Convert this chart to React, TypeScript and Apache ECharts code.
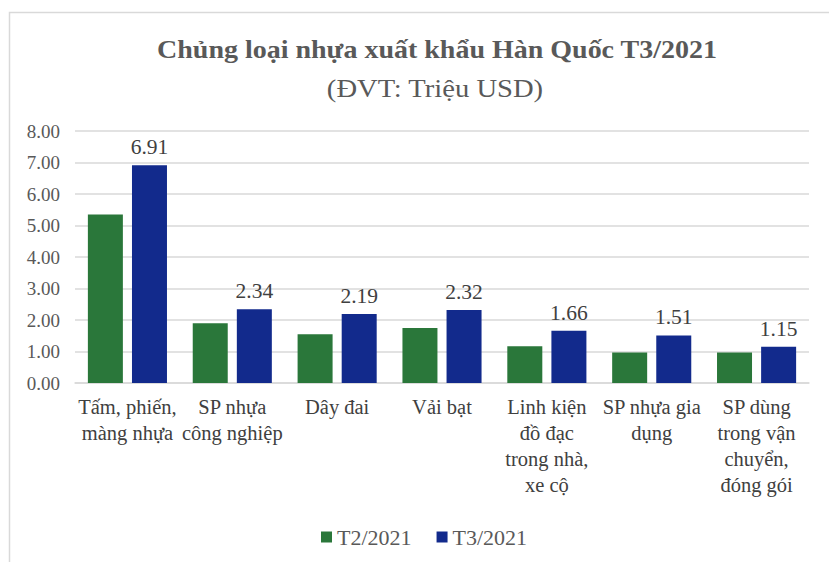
import React, { useEffect, useRef } from "react";
import * as echarts from "echarts";

const categories = [
  "Tấm, phiến,\nmàng nhựa",
  "SP nhựa\ncông nghiệp",
  "Dây đai",
  "Vải bạt",
  "Linh kiện\nđồ đạc\ntrong nhà,\nxe cộ",
  "SP nhựa gia\ndụng",
  "SP dùng\ntrong vận\nchuyển,\nđóng gói",
];
const t2Values = [5.35, 1.9, 1.55, 1.75, 1.17, 0.97, 0.97];
const t3Values = [6.91, 2.34, 2.19, 2.32, 1.66, 1.51, 1.15];
const seriesNames = ["T2/2021", "T3/2021"];
const titleText = "Chủng loại nhựa xuất khẩu Hàn Quốc T3/2021";
const subtitleText = "(ĐVT: Triệu USD)";

const FONT = "'Liberation Serif', 'Times New Roman', serif";

export default function App() {
  const ref = useRef<HTMLDivElement>(null);
  useEffect(() => {
    if (!ref.current) return;
    const chart = echarts.init(ref.current, null, { renderer: "svg" });
    chart.setOption({
      animation: false,
      backgroundColor: "#ffffff",
      textStyle: { fontFamily: FONT },
      graphic: [
        {
          type: "polyline",
          shape: { points: [[9.5, 600], [9.5, 12.5], [840, 12.5]] },
          style: { stroke: "#d9d9d9", lineWidth: 1.5, fill: "none" },
          silent: true,
        },
        {
          type: "text",
          x: 437,
          y: 50,
          scaleX: 1.12,
          style: {
            text: titleText,
            align: "center",
            verticalAlign: "middle",
            fontFamily: FONT,
            fontSize: 25,
            fontWeight: "bold",
            fill: "#595959",
          },
        },
        {
          type: "text",
          x: 435,
          y: 88,
          scaleX: 1.1,
          style: {
            text: subtitleText,
            align: "center",
            verticalAlign: "middle",
            fontFamily: FONT,
            fontSize: 26,
            fontWeight: "normal",
            fill: "#595959",
          },
        },
      ],
      legend: {
        left: 316,
        top: 521,
        itemWidth: 11,
        itemHeight: 11,
        itemGap: 25,
        icon: "rect",
        textStyle: { fontSize: 22, color: "#595959", fontFamily: FONT },
        data: seriesNames,
      },
      grid: { left: 75, right: 20, top: 131, bottom: 179, containLabel: false },
      xAxis: {
        type: "category",
        data: categories,
        axisTick: { show: false },
        axisLine: { show: true, lineStyle: { color: "#d9d9d9", width: 1.5 } },
        axisLabel: {
          interval: 0,
          fontSize: 20.5,
          lineHeight: 26,
          color: "#404040",
          fontFamily: FONT,
          margin: 11,
          verticalAlign: "top",
        },
      },
      yAxis: {
        type: "value",
        min: 0,
        max: 8,
        interval: 1,
        axisLine: { show: false },
        axisTick: { show: false },
        splitLine: { lineStyle: { color: "#d9d9d9", width: 1.5 } },
        axisLabel: {
          fontSize: 19,
          color: "#595959",
          fontFamily: FONT,
          margin: 15,
          formatter: (v: number) => v.toFixed(2),
        },
      },
      series: [
        {
          name: seriesNames[0],
          type: "bar",
          data: t2Values,
          barWidth: 35,
          barGap: "26%",
          itemStyle: { color: "#2a773a" },
        },
        {
          name: seriesNames[1],
          type: "bar",
          data: t3Values,
          barWidth: 35,
          itemStyle: { color: "#122a8c" },
          label: {
            show: true,
            position: "top",
            distance: 7,
            fontSize: 21.5,
            color: "#404040",
            fontFamily: FONT,
            formatter: (p: any) => Number(p.value).toFixed(2),
          },
        },
      ],
    });
    return () => chart.dispose();
  }, []);
  return (
    <div
      ref={ref}
      style={{ position: "fixed", left: 0, top: 0, width: 829, height: 562 }}
    />
  );
}
